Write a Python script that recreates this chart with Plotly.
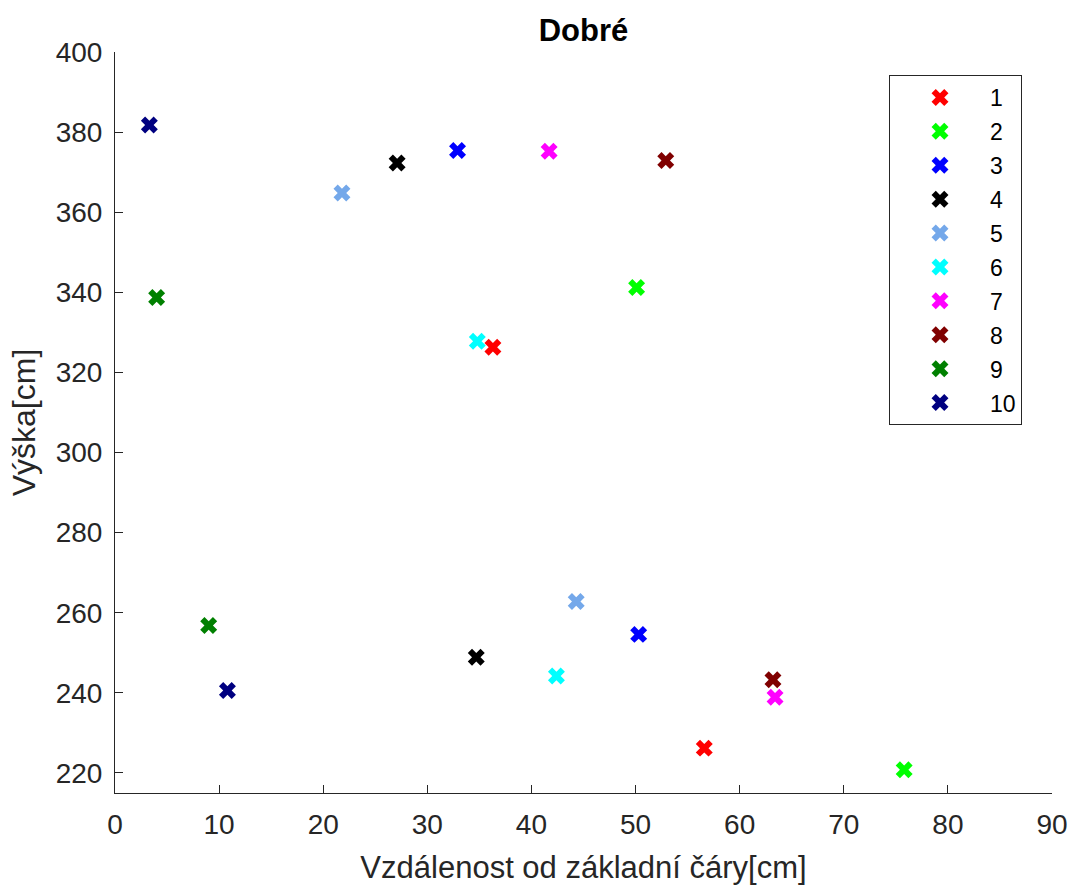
import plotly.graph_objects as go

# Measurement points per sample: distance from baseline [cm] and height [cm]
series_names = ["1", "2", "3", "4", "5", "6", "7", "8", "9", "10"]
x_values = [
    [36.3, 56.6],
    [50.1, 75.8],
    [32.9, 50.3],
    [27.1, 34.7],
    [21.8, 44.3],
    [34.8, 42.4],
    [41.7, 63.4],
    [52.9, 63.2],
    [4.0, 9.0],
    [3.3, 10.8],
]
y_values = [
    [326.3, 226.2],
    [341.2, 220.8],
    [375.4, 254.6],
    [372.3, 248.9],
    [364.8, 262.8],
    [327.8, 244.2],
    [375.2, 238.9],
    [372.9, 243.3],
    [338.7, 256.8],
    [381.8, 240.6],
]
colors = [
    "#FF0000", "#00FF00", "#0000FF", "#000000", "#74A8EA",
    "#00FFFF", "#FF00FF", "#800000", "#008000", "#000080",
]

x_ticks = list(range(0, 91, 10))
y_ticks = list(range(220, 401, 20))

FONT = "Liberation Sans, Arial, sans-serif"
AX_COLOR = "#262626"

fig = go.Figure()
for name, xs, ys, c in zip(series_names, x_values, y_values, colors):
    fig.add_trace(go.Scatter(
        x=xs, y=ys, mode="markers", name=name, legendgroup=name,
        marker=dict(symbol="x", size=15, color=c, line=dict(width=0)),
    ))

axis_common = dict(
    showline=True, linecolor=AX_COLOR, linewidth=1, mirror=False,
    ticks="inside", ticklen=8, tickcolor=AX_COLOR, tickwidth=1,
    showgrid=False, zeroline=False, ticklabelstandoff=6,
    tickfont=dict(family=FONT, size=28, color=AX_COLOR),
)

fig.update_layout(
    width=1074, height=885,
    margin=dict(l=115, r=22, t=52, b=92, autoexpand=False),
    paper_bgcolor="white", plot_bgcolor="white",
    title=dict(text="<b>Dobré</b>", x=0.5, xref="paper", y=1 - 30 / 885,
               yanchor="middle", font=dict(family=FONT, size=31, color="black")),
    xaxis=dict(range=[0, 90], tickvals=x_ticks, **axis_common, automargin=False,
               title=dict(text="Vzdálenost od základní čáry[cm]", standoff=17,
                          font=dict(family=FONT, size=31, color=AX_COLOR))),
    yaxis=dict(range=[215, 400], tickvals=y_ticks, **axis_common, automargin=False,
               title=dict(text="Výška[cm]", standoff=10,
                          font=dict(family=FONT, size=32, color=AX_COLOR))),
    legend=dict(
        x=(889 - 115) / 937, y=(793 - 75) / 741, xanchor="left", yanchor="top",
        bordercolor=AX_COLOR, borderwidth=1, bgcolor="white",
        font=dict(family=FONT, size=23, color="black"),
        itemwidth=90, tracegroupgap=1, traceorder="grouped",
    ),
    showlegend=True,
)

fig.write_html("out.html")
